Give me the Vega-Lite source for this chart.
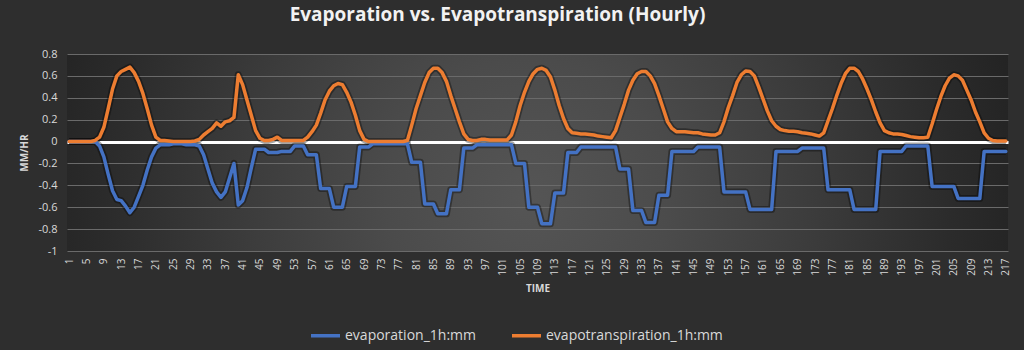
{
  "$schema": "https://vega.github.io/schema/vega-lite/v6.json",
  "width": 941,
  "height": 197,
  "autosize": "none",
  "padding": {"left": 67, "top": 54, "right": 16, "bottom": 99},
  "background": "#2e2e2e",
  "title": {
    "text": "Evaporation vs. Evapotranspiration (Hourly)",
    "font": "Open Sans",
    "fontSize": 19,
    "fontWeight": "bold",
    "color": "#f2f2f2",
    "anchor": "middle",
    "dx": -40,
    "offset": 23
  },
  "config": {
    "view": {
      "stroke": null,
      "fill": {
        "gradient": "radial",
        "x1": 0.49, "y1": 0.55, "r1": 0,
        "x2": 0.49, "y2": 0.55, "r2": 0.6,
        "stops": [
          {"offset": 0, "color": "#555555"},
          {"offset": 0.25, "color": "#4b4b4b"},
          {"offset": 0.5, "color": "#3c3c3c"},
          {"offset": 0.75, "color": "#2b2b2b"},
          {"offset": 1, "color": "#1d1d1d"}
        ]
      }
    },
    "axis": {
      "labelFont": "Open Sans",
      "titleFont": "Open Sans",
      "labelColor": "#d9d9d9",
      "titleColor": "#d9d9d9"
    },
    "legend": {"labelFont": "Open Sans"}
  },
  "data": {"values": [
{"t":1,"e":0,"p":0},{"t":2,"e":0,"p":0},{"t":3,"e":0,"p":0},{"t":4,"e":0,"p":0},{"t":5,"e":0,"p":0},{"t":6,"e":0,"p":0},{"t":7,"e":0,"p":0.01},
{"t":8,"e":-0.04,"p":0.04},{"t":9,"e":-0.14,"p":0.13},{"t":10,"e":-0.30,"p":0.30},{"t":11,"e":-0.45,"p":0.48},{"t":12,"e":-0.53,"p":0.60},{"t":13,"e":-0.54,"p":0.64},{"t":14,"e":-0.59,"p":0.66},{"t":15,"e":-0.65,"p":0.68},{"t":16,"e":-0.60,"p":0.63},{"t":17,"e":-0.50,"p":0.55},{"t":18,"e":-0.40,"p":0.44},{"t":19,"e":-0.26,"p":0.30},{"t":20,"e":-0.14,"p":0.15},
{"t":21,"e":-0.06,"p":0.04},{"t":22,"e":-0.03,"p":0.01},{"t":23,"e":-0.03,"p":0.01},{"t":24,"e":-0.03,"p":0.005},{"t":25,"e":-0.02,"p":0},{"t":26,"e":-0.02,"p":0},{"t":27,"e":-0.02,"p":0},{"t":28,"e":-0.03,"p":0},{"t":29,"e":-0.03,"p":0},{"t":30,"e":-0.03,"p":0.005},
{"t":31,"e":-0.04,"p":0.02},{"t":32,"e":-0.12,"p":0.06},{"t":33,"e":-0.25,"p":0.09},{"t":34,"e":-0.38,"p":0.12},{"t":35,"e":-0.46,"p":0.17},{"t":36,"e":-0.51,"p":0.14},{"t":37,"e":-0.46,"p":0.18},{"t":38,"e":-0.33,"p":0.19},{"t":39,"e":-0.20,"p":0.22},{"t":40,"e":-0.58,"p":0.61},
{"t":41,"e":-0.54,"p":0.52},{"t":42,"e":-0.42,"p":0.38},{"t":43,"e":-0.24,"p":0.24},{"t":44,"e":-0.07,"p":0.10},{"t":45,"e":-0.07,"p":0.03},{"t":46,"e":-0.07,"p":0.01},{"t":47,"e":-0.10,"p":0.01},{"t":48,"e":-0.10,"p":0.02},{"t":49,"e":-0.10,"p":0.04},{"t":50,"e":-0.09,"p":0.01},
{"t":51,"e":-0.09,"p":0.01},{"t":52,"e":-0.09,"p":0.01},{"t":53,"e":-0.04,"p":0.01},{"t":54,"e":-0.04,"p":0.01},{"t":55,"e":-0.04,"p":0.01},{"t":56,"e":-0.12,"p":0.04},{"t":57,"e":-0.12,"p":0.09},{"t":58,"e":-0.12,"p":0.15},{"t":59,"e":-0.43,"p":0.26},{"t":60,"e":-0.43,"p":0.38},
{"t":61,"e":-0.43,"p":0.46},{"t":62,"e":-0.60,"p":0.51},{"t":63,"e":-0.60,"p":0.53},{"t":64,"e":-0.60,"p":0.52},{"t":65,"e":-0.41,"p":0.45},{"t":66,"e":-0.41,"p":0.36},{"t":67,"e":-0.41,"p":0.24},{"t":68,"e":-0.05,"p":0.10},{"t":69,"e":-0.05,"p":0.02},{"t":70,"e":-0.05,"p":0},
{"t":71,"e":-0.02,"p":0},{"t":72,"e":-0.02,"p":0},{"t":73,"e":-0.02,"p":0},{"t":74,"e":-0.02,"p":0},{"t":75,"e":-0.02,"p":0},{"t":76,"e":-0.02,"p":0},{"t":77,"e":-0.02,"p":0},{"t":78,"e":-0.02,"p":0},{"t":79,"e":-0.02,"p":0.01},{"t":80,"e":-0.19,"p":0.15},
{"t":81,"e":-0.19,"p":0.30},{"t":82,"e":-0.19,"p":0.42},{"t":83,"e":-0.57,"p":0.54},{"t":84,"e":-0.57,"p":0.63},{"t":85,"e":-0.57,"p":0.67},{"t":86,"e":-0.66,"p":0.67},{"t":87,"e":-0.66,"p":0.63},{"t":88,"e":-0.66,"p":0.55},{"t":89,"e":-0.44,"p":0.42},{"t":90,"e":-0.44,"p":0.30},
{"t":91,"e":-0.44,"p":0.18},{"t":92,"e":-0.06,"p":0.07},{"t":93,"e":-0.06,"p":0.02},{"t":94,"e":-0.06,"p":0.01},{"t":95,"e":-0.03,"p":0.01},{"t":96,"e":-0.03,"p":0.02},{"t":97,"e":-0.03,"p":0.02},{"t":98,"e":-0.03,"p":0.015},{"t":99,"e":-0.03,"p":0.015},{"t":100,"e":-0.03,"p":0.015},
{"t":101,"e":-0.03,"p":0.015},{"t":102,"e":-0.03,"p":0.015},{"t":103,"e":-0.03,"p":0.06},{"t":104,"e":-0.20,"p":0.18},{"t":105,"e":-0.20,"p":0.33},{"t":106,"e":-0.20,"p":0.45},{"t":107,"e":-0.60,"p":0.55},{"t":108,"e":-0.60,"p":0.62},{"t":109,"e":-0.60,"p":0.66},{"t":110,"e":-0.75,"p":0.67},
{"t":111,"e":-0.75,"p":0.65},{"t":112,"e":-0.75,"p":0.59},{"t":113,"e":-0.47,"p":0.47},{"t":114,"e":-0.47,"p":0.33},{"t":115,"e":-0.47,"p":0.21},{"t":116,"e":-0.10,"p":0.12},{"t":117,"e":-0.10,"p":0.08},{"t":118,"e":-0.10,"p":0.075},{"t":119,"e":-0.05,"p":0.07},{"t":120,"e":-0.05,"p":0.07},
{"t":121,"e":-0.05,"p":0.065},{"t":122,"e":-0.05,"p":0.06},{"t":123,"e":-0.05,"p":0.05},{"t":124,"e":-0.05,"p":0.045},{"t":125,"e":-0.05,"p":0.04},{"t":126,"e":-0.05,"p":0.035},{"t":127,"e":-0.05,"p":0.10},{"t":128,"e":-0.25,"p":0.22},{"t":129,"e":-0.25,"p":0.34},{"t":130,"e":-0.25,"p":0.47},
{"t":131,"e":-0.63,"p":0.56},{"t":132,"e":-0.63,"p":0.62},{"t":133,"e":-0.63,"p":0.64},{"t":134,"e":-0.74,"p":0.64},{"t":135,"e":-0.74,"p":0.60},{"t":136,"e":-0.74,"p":0.53},{"t":137,"e":-0.49,"p":0.42},{"t":138,"e":-0.49,"p":0.30},{"t":139,"e":-0.49,"p":0.18},{"t":140,"e":-0.09,"p":0.12},
{"t":141,"e":-0.09,"p":0.09},{"t":142,"e":-0.09,"p":0.09},{"t":143,"e":-0.09,"p":0.09},{"t":144,"e":-0.09,"p":0.085},{"t":145,"e":-0.09,"p":0.08},{"t":146,"e":-0.05,"p":0.08},{"t":147,"e":-0.05,"p":0.07},{"t":148,"e":-0.05,"p":0.065},{"t":149,"e":-0.05,"p":0.06},{"t":150,"e":-0.05,"p":0.06},
{"t":151,"e":-0.05,"p":0.08},{"t":152,"e":-0.46,"p":0.18},{"t":153,"e":-0.46,"p":0.31},{"t":154,"e":-0.46,"p":0.42},{"t":155,"e":-0.46,"p":0.54},{"t":156,"e":-0.46,"p":0.61},{"t":157,"e":-0.46,"p":0.645},{"t":158,"e":-0.62,"p":0.64},{"t":159,"e":-0.62,"p":0.60},{"t":160,"e":-0.62,"p":0.50},
{"t":161,"e":-0.62,"p":0.39},{"t":162,"e":-0.62,"p":0.28},{"t":163,"e":-0.62,"p":0.19},{"t":164,"e":-0.09,"p":0.14},{"t":165,"e":-0.09,"p":0.11},{"t":166,"e":-0.09,"p":0.10},{"t":167,"e":-0.09,"p":0.095},{"t":168,"e":-0.09,"p":0.095},{"t":169,"e":-0.09,"p":0.09},{"t":170,"e":-0.06,"p":0.08},
{"t":171,"e":-0.06,"p":0.075},{"t":172,"e":-0.06,"p":0.07},{"t":173,"e":-0.06,"p":0.06},{"t":174,"e":-0.06,"p":0.05},{"t":175,"e":-0.06,"p":0.08},{"t":176,"e":-0.44,"p":0.19},{"t":177,"e":-0.44,"p":0.30},{"t":178,"e":-0.44,"p":0.42},{"t":179,"e":-0.44,"p":0.53},{"t":180,"e":-0.44,"p":0.62},
{"t":181,"e":-0.44,"p":0.67},{"t":182,"e":-0.62,"p":0.67},{"t":183,"e":-0.62,"p":0.64},{"t":184,"e":-0.62,"p":0.57},{"t":185,"e":-0.62,"p":0.48},{"t":186,"e":-0.62,"p":0.38},{"t":187,"e":-0.62,"p":0.27},{"t":188,"e":-0.09,"p":0.17},{"t":189,"e":-0.09,"p":0.10},{"t":190,"e":-0.09,"p":0.08},
{"t":191,"e":-0.09,"p":0.07},{"t":192,"e":-0.09,"p":0.07},{"t":193,"e":-0.09,"p":0.065},{"t":194,"e":-0.04,"p":0.055},{"t":195,"e":-0.04,"p":0.045},{"t":196,"e":-0.04,"p":0.04},{"t":197,"e":-0.04,"p":0.035},{"t":198,"e":-0.04,"p":0.035},{"t":199,"e":-0.04,"p":0.04},{"t":200,"e":-0.41,"p":0.16},
{"t":201,"e":-0.41,"p":0.29},{"t":202,"e":-0.41,"p":0.41},{"t":203,"e":-0.41,"p":0.51},{"t":204,"e":-0.41,"p":0.58},{"t":205,"e":-0.41,"p":0.61},{"t":206,"e":-0.52,"p":0.60},{"t":207,"e":-0.52,"p":0.56},{"t":208,"e":-0.52,"p":0.47},{"t":209,"e":-0.52,"p":0.38},{"t":210,"e":-0.52,"p":0.27},
{"t":211,"e":-0.52,"p":0.18},{"t":212,"e":-0.09,"p":0.08},{"t":213,"e":-0.09,"p":0.03},{"t":214,"e":-0.09,"p":0.01},{"t":215,"e":-0.09,"p":0.005},{"t":216,"e":-0.09,"p":0.005},{"t":217,"e":-0.09,"p":0.005}
  ]},
  "transform": [{"fold": ["e", "p"], "as": ["s", "v"]}],
  "encoding": {
    "x": {
      "field": "t",
      "type": "quantitative",
      "scale": {"domain": [0.5, 217.5], "nice": false, "zero": false},
      "axis": {
        "title": "TIME",
        "titleFontSize": 10,
        "titleFontWeight": "bold",
        "titlePadding": 8,
        "values": [1,5,9,13,17,21,25,29,33,37,41,45,49,53,57,61,65,69,73,77,81,85,89,93,97,101,105,109,113,117,121,125,129,133,137,141,145,149,153,157,161,165,169,173,177,181,185,189,193,197,201,205,209,213,217],
        "labelAngle": 270,
        "labelFontSize": 10,
        "labelPadding": 7,
        "labelOverlap": false,
        "labelBound": false,
        "labelFlush": false,
        "grid": false,
        "ticks": false,
        "domain": false
      }
    },
    "y": {
      "field": "v",
      "type": "quantitative",
      "scale": {"domain": [-1, 0.8], "nice": false},
      "axis": {
        "title": "MM/HR",
        "titleFontSize": 10,
        "titleFontWeight": "bold",
        "titlePadding": 8,
        "values": [-1, -0.8, -0.6, -0.4, -0.2, 0, 0.2, 0.4, 0.6, 0.8],
        "tickCount": 10,
        "labelExpr": "replace(format(datum.value, '~g'), '−', '-')",
        "labelFontSize": 11,
        "labelPadding": 10,
        "labelOverlap": false,
        "labelFlush": false,
        "grid": true,
        "gridColor": {"condition": {"test": "abs(datum.value) < 0.001", "value": "#ffffff"}, "value": "#6a6a6a"},
        "gridOpacity": 1,
        "gridWidth": {"condition": {"test": "abs(datum.value) < 0.001", "value": 3}, "value": 1},
        "ticks": false,
        "domain": false
      }
    }
  },
  "layer": [
    {
      "mark": {"type": "line", "color": "#000000", "opacity": 0.35, "strokeWidth": 7, "strokeJoin": "round"},
      "encoding": {"detail": {"field": "s", "type": "nominal"}}
    },
    {
      "mark": {"type": "line", "strokeWidth": 3.5, "strokeJoin": "round", "strokeCap": "round"},
      "encoding": {
        "color": {
          "field": "s",
          "type": "nominal",
          "scale": {"domain": ["e", "p"], "range": ["#4472C4", "#ED7D31"]},
          "legend": {
            "title": null,
            "orient": "none",
            "direction": "horizontal",
            "legendX": 242,
            "legendY": 265,
            "symbolType": "stroke",
            "symbolSize": 841,
            "symbolStrokeWidth": 3.5,
            "labelExpr": "datum.label == 'e' ? 'evaporation_1h:mm' : 'evapotranspiration_1h:mm'",
            "labelFontSize": 14,
            "labelLimit": 400,
            "labelColor": "#d9d9d9",
            "labelOffset": 3,
            "columnPadding": 29
          }
        }
      }
    }
  ]
}
